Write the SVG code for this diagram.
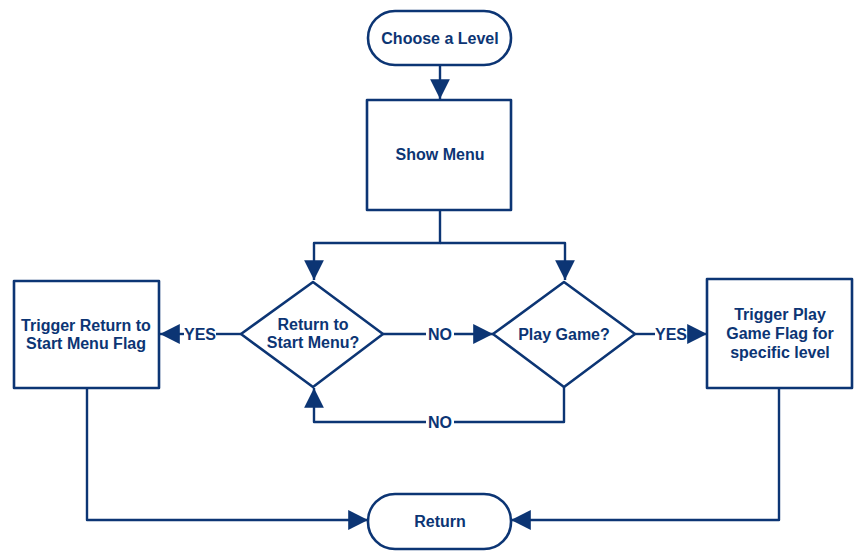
<svg xmlns="http://www.w3.org/2000/svg" width="861" height="551" viewBox="0 0 861 551">
<defs>
<style>
.s{fill:#fff;stroke:#0c3574;stroke-width:2.6;stroke-linejoin:round}
.c{fill:none;stroke:#0c3574;stroke-width:2.4;stroke-linejoin:round}
.t{font-family:"Liberation Sans",Arial,sans-serif;font-weight:bold;font-size:16px;fill:#0c3574;text-anchor:middle}
.l{font-family:"Liberation Sans",Arial,sans-serif;font-weight:bold;font-size:16px;fill:#0c3574;text-anchor:middle}
</style>
<marker id="a" markerUnits="userSpaceOnUse" markerWidth="22" markerHeight="22" viewBox="0 0 20 20" refX="18" refY="10" orient="auto">
<path d="M0,1 L18,10 L0,19 Z" fill="#0c3574"/>
</marker>
</defs>
<rect width="861" height="551" fill="#fff"/>
<g id="connectors">
<path class="c" d="M440,65 V99" marker-end="url(#a)"/>
<path class="c" d="M440,210 V243 H314 V280" marker-end="url(#a)"/>
<path class="c" d="M440,243 H565 V280" marker-end="url(#a)"/>
<path class="c" d="M241,334 H216"/>
<path class="c" d="M184,334 H160" marker-end="url(#a)"/>
<path class="c" d="M383,334 H426"/>
<path class="c" d="M454,334 H493" marker-end="url(#a)"/>
<path class="c" d="M635,334 H655"/>
<path class="c" d="M688,334 H707" marker-end="url(#a)"/>
<path class="c" d="M564,387 V422 H454"/>
<path class="c" d="M426,422 H314 V388" marker-end="url(#a)"/>
<path class="c" d="M87,388 V520 H368" marker-end="url(#a)"/>
<path class="c" d="M779,388 V520 H511" marker-end="url(#a)"/>
<text class="l" x="200" y="340">YES</text>
<text class="l" x="440" y="340">NO</text>
<text class="l" x="671" y="340">YES</text>
<text class="l" x="440" y="428">NO</text>
</g>
<g id="choose">
<rect class="s" x="368" y="11" width="143" height="54" rx="27"/>
<text class="t" x="440" y="44">Choose a Level</text>
</g>
<g id="menu">
<rect class="s" x="367" y="100" width="144" height="110"/>
<text class="t" x="440" y="160">Show Menu</text>
</g>
<g id="returnq">
<path class="s" d="M313,282 L383,334 L313,387 L241,334 Z"/>
<text class="t" x="313" y="330">Return to</text>
<text class="t" x="313" y="348">Start Menu?</text>
</g>
<g id="play">
<path class="s" d="M564,282 L635,334 L564,387 L493,334 Z"/>
<text class="t" x="564" y="340">Play Game?</text>
</g>
<g id="trigret">
<rect class="s" x="14" y="281" width="145" height="107"/>
<text class="t" x="86" y="331">Trigger Return to</text>
<text class="t" x="86" y="349">Start Menu Flag</text>
</g>
<g id="trigplay">
<rect class="s" x="707" y="279" width="145" height="109"/>
<text class="t" x="780" y="320">Trigger Play</text>
<text class="t" x="780" y="339">Game Flag for</text>
<text class="t" x="780" y="358">specific level</text>
</g>
<g id="return">
<rect class="s" x="368" y="494" width="143" height="55" rx="27"/>
<text class="t" x="440" y="527">Return</text>
</g>
</svg>
